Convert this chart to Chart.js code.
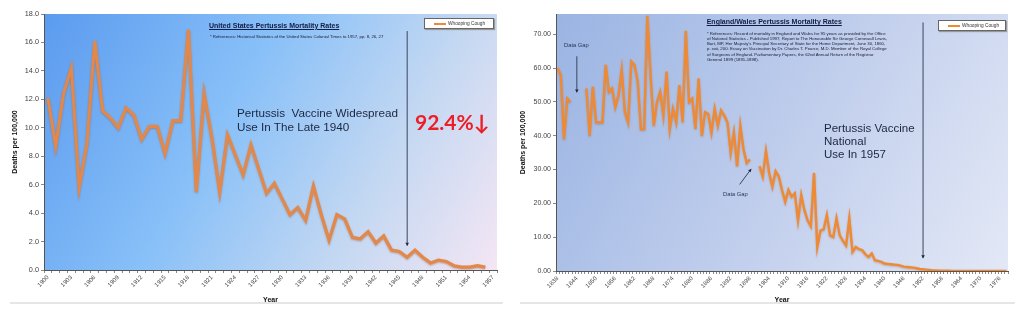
<!DOCTYPE html>
<html>
<head>
<meta charset="utf-8">
<script src="https://cdn.jsdelivr.net/npm/chart.js@4.4.1/dist/chart.umd.min.js"></script>
<style>
  html, body { margin: 0; padding: 0; background: #fff; }
  body { width: 1024px; height: 322px; position: relative; overflow: hidden; font-family: "Liberation Sans", Arial, sans-serif; }
  canvas { position: absolute; top: 0; }
  #usChart { left: 0; }
  #ewChart { left: 510px; }
  .note { position: absolute; white-space: pre; color: #1d2a46; }
  .title { font-weight: bold; font-size: 7px; line-height: 8px; text-decoration: underline; color: #101c44; }
  .refs { font-size: 4.3px; line-height: 5.2px; color: #1a1a2e; }
  .big { font-size: 11.7px; line-height: 14.5px; color: #1c2740; }
  .gap { font-size: 5.8px; line-height: 7px; color: #2a3656; }
  .legend { position: absolute; height: 9px; background: #fff; border: 1px solid #666; box-shadow: 1px 1px 1px #999; font-size: 4.8px; line-height: 9px; color: #333; white-space: nowrap; }
  .legend i { display: inline-block; width: 12px; height: 2px; background: #ee8a35; vertical-align: middle; margin: 0 2px 0 9px; }
  .sep { position: absolute; top: 302px; height: 2px; background: #e6e6e6; }
</style>
</head>
<body>
<canvas id="usChart" width="510" height="322"></canvas>
<canvas id="ewChart" width="514" height="322"></canvas>

<div class="sep" style="left:10px;width:493px"></div>
<div class="sep" style="left:520px;width:495px"></div>

<!-- left chart notes -->
<div class="note title" style="left:209px;top:21.7px">United States Pertussis Mortality Rates</div>
<div class="note refs" style="left:210px;top:34.3px">* References: Historical Statistics of the United States Colonial Times to 1957, pp. 8, 26, 27</div>
<div class="legend" style="left:424px;top:18px;width:68px"><i></i>Whooping Cough</div>
<div class="note big" style="left:237px;top:105.7px">Pertussis  Vaccine Widespread
Use In The Late 1940</div>
<div class="note" style="left:415px;top:109.5px;font:bold 21px/23px Lato, 'Open Sans', sans-serif;color:#ee1c25">92.4%↓</div>

<!-- right chart notes -->
<div class="note title" style="left:706.7px;top:18.3px">England/Wales Pertussis Mortality Rates</div>
<div class="note refs" style="left:707px;top:30.7px">* References: Record of mortality in England and Wales for 95 years as provided by the Office
of National Statistics - Published 1997, Report to The Honourable Sir George Cornewall Lewis,
Bart, MP, Her Majesty's Principal Secretary of State for the Home Department, June 30, 1860,
p. xxii, 200. Essay on Vaccination by Dr. Charles T. Pearce, M.D. Member of the Royal College
of Surgeons of England. Parliamentary Papers, the 62nd Annual Return of the Registrar
General 1899 (1891-1898).</div>
<div class="legend" style="left:938px;top:20px;width:66px"><i></i>Whooping Cough</div>
<div class="note big" style="left:824px;top:121.5px;font-size:11.5px;line-height:13.4px">Pertussis Vaccine
National
Use In 1957</div>
<div class="note gap" style="left:564px;top:41.5px">Data Gap</div>
<div class="note gap" style="left:723px;top:190.8px">Data Gap</div>

<script>
const FONT = "'Liberation Sans', Arial, sans-serif";

// United States, deaths per 100,000, 1900-1956
const usYears = [];
for (let y = 1900; y <= 1957; y++) usYears.push(String(y));
const usRates = [
  12.1, 8.7, 12.4, 14.2, 5.8, 8.9, 16.1, 11.2, 10.7, 10.0,
  11.4, 10.9, 9.2, 10.1, 10.1, 8.2, 10.5, 10.5, 16.9, 5.5,
  12.4, 9.3, 5.5, 9.5, 8.1, 6.7, 8.8, 7.1, 5.4, 6.1,
  5.0, 3.9, 4.4, 3.5, 5.9, 3.9, 2.1, 3.9, 3.6, 2.3,
  2.2, 2.7, 1.9, 2.4, 1.4, 1.3, 0.9, 1.4, 0.9, 0.5,
  0.7, 0.6, 0.3, 0.2, 0.2, 0.3, 0.2, null
];

// England/Wales, deaths per 100,000, 1838-1978 (null = data gap)
const ewYears = [];
for (let y = 1838; y <= 1978; y++) ewYears.push(String(y));
const ewRates = [
  60, 58,
  39, 51, 50, null, null, null, null, 54, 40, 54.5,
  44, 44, 44, 61, 53, 54, 48.5, 52, 59.5, 47,
  44, 62, 61, 56, 42, 42, 75.5, 58, 43, 50,
  53, 46, 59, 42, 48, 44, 55, 44, 71, 50,
  51, 42, 57, 40, 47, 46.5, 41, 48, 43, 47.5,
  46, 44, 35, 41, 31, 43, 36, 32, 33, null,
  null, 31, 28, 35.5, 29, 25, 29.5, 28, 24, 20.5,
  24, 22, 23, 15, 22.5, 18, 15, 13.3, 29, 7.1,
  12, 12.3, 16.6, 10.6, 10.1, 15.6, 10.6, 9, 7.6, 15.6,
  5.7, 7.1, 6.5, 6.2, 5, 4.2, 5.2, 3.2, 3.0, 2.7,
  2.2, 2.1, 2.0, 1.9, 1.8, 1.6, 1.3, 1.2, 1.1, 1.0,
  0.8, 0.6, 0.5, 0.4, 0.3, 0.2, 0.15, 0.1, 0.08, 0.07,
  0.06, 0.05, 0.05, 0.04, 0.04, 0.04, 0.03, 0.03, 0.03, 0.03,
  0.02, 0.02, 0.02, 0.02, 0.02, 0.02, 0.02, 0.02, 0.02
];

// gradient plot area, line shadow and annotation arrows
const plotDecor = {
  id: 'plotDecor',
  beforeDraw(chart, args, opts) {
    const a = chart.chartArea, ctx = chart.ctx;
    const g = ctx.createLinearGradient(a.left, a.top, a.right, a.bottom);
    opts.stops.forEach(s => g.addColorStop(s[0], s[1]));
    ctx.save();
    ctx.fillStyle = g;
    ctx.fillRect(a.left, a.top, a.width, a.height);
    ctx.restore();
  },
  beforeDatasetsDraw(chart, args, opts) {
    const ctx = chart.ctx;
    ctx.save();
    ctx.shadowColor = opts.shadow;
    ctx.shadowBlur = 2;
    ctx.shadowOffsetY = 1;
  },
  afterDatasetsDraw(chart, args, opts) {
    const ctx = chart.ctx;
    ctx.restore();
    const xs = chart.scales.x, ys = chart.scales.y;
    (opts.arrows || []).forEach(ar => {
      const x1 = xs.getPixelForValue(ar.from[0]), y1 = ys.getPixelForValue(ar.from[1]);
      const x2 = xs.getPixelForValue(ar.to[0]), y2 = ys.getPixelForValue(ar.to[1]);
      const ang = Math.atan2(y2 - y1, x2 - x1);
      ctx.save();
      ctx.strokeStyle = '#3a4660';
      ctx.lineWidth = 1;
      ctx.beginPath();
      ctx.moveTo(x1, y1);
      ctx.lineTo(x2, y2);
      ctx.stroke();
      ctx.fillStyle = '#1e2a44';
      ctx.beginPath();
      ctx.moveTo(x2, y2);
      ctx.lineTo(x2 - 3.5 * Math.cos(ang - 0.55), y2 - 3.5 * Math.sin(ang - 0.55));
      ctx.lineTo(x2 - 3.5 * Math.cos(ang + 0.55), y2 - 3.5 * Math.sin(ang + 0.55));
      ctx.closePath();
      ctx.fill();
      ctx.restore();
    });
  }
};

function makeChart(id, cfg) {
  return new Chart(document.getElementById(id), {
    type: 'line',
    data: {
      labels: cfg.labels,
      datasets: [{
        label: 'Whooping Cough',
        data: cfg.data,
        borderColor: cfg.color,
        borderWidth: cfg.width,
        pointRadius: 0,
        tension: 0,
        spanGaps: false
      }]
    },
    options: {
      responsive: false,
      animation: false,
      layout: { padding: cfg.padding },
      plugins: {
        legend: { display: false },
        tooltip: { enabled: false },
        plotDecor: { stops: cfg.stops, shadow: cfg.shadow, arrows: cfg.arrows }
      },
      scales: {
        x: {
          type: 'category',
          offset: true,
          grid: { offset: true, drawOnChartArea: false, tickLength: 3, color: '#8a8a8a' },
          border: { color: '#555', width: 1 },
          ticks: {
            autoSkip: false, maxRotation: 45, minRotation: 45, padding: 1,
            color: '#444', font: { size: 6, family: FONT },
            callback: (v, i) => i % cfg.every === 0 ? cfg.labels[i] : ''
          },
          title: { display: true, text: 'Year', color: '#111', font: { size: 7, weight: 'bold', family: FONT }, padding: { top: 0, bottom: 1 } },
          afterFit(scale) { scale.height = cfg.xHeight; scale.paddingLeft = 0; scale.paddingRight = 0; }
        },
        y: {
          min: 0,
          max: cfg.yMax,
          afterBuildTicks(scale) { scale.ticks = scale.ticks.filter(t => Math.abs(t.value / cfg.step - Math.round(t.value / cfg.step)) < 1e-6); },
          ticks: { stepSize: cfg.step, padding: 2, color: '#444', font: { size: cfg.yFont, family: FONT }, callback: v => v.toFixed(cfg.digits) },
          grid: { drawOnChartArea: false, tickLength: 3, color: '#8a8a8a' },
          border: { color: '#555', width: 1 },
          title: { display: true, text: 'Deaths per 100,000', color: '#111', font: { size: 7, weight: 'bold', family: FONT }, padding: { top: cfg.titleGap, bottom: 0 } },
          afterFit(scale) { scale.width = cfg.yWidth; scale.paddingTop = 0; scale.paddingBottom = 0; }
        }
      }
    },
    plugins: [plotDecor]
  });
}

makeChart('usChart', {
  labels: usYears, data: usRates, every: 3,
  color: '#e2884a', width: 3.2, shadow: 'rgba(150,80,40,0.45)',
  padding: { left: 0, top: 14, right: 13, bottom: 17 },
  xHeight: 35, yWidth: 44, titleGap: 10.8,
  yMax: 18, step: 2, digits: 1, yFont: 7.3,
  stops: [[0, '#5b9bef'], [0.4, '#88c0f8'], [0.72, '#c4d8f2'], [1, '#f4e6f4']],
  arrows: [{ from: [46, 16.8], to: [46, 1.7] }]
});

makeChart('ewChart', {
  labels: ewYears, data: ewRates, every: 6,
  color: '#ee8a35', width: 2.4, shadow: 'rgba(150,80,30,0.35)',
  padding: { left: 0, top: 14, right: 16, bottom: 17 },
  xHeight: 34, yWidth: 46, titleGap: 8.8,
  yMax: 76, step: 10, digits: 2, yFont: 7,
  stops: [[0, '#9ab4e3'], [0.5, '#bfcdec'], [1, '#e3e8f6']],
  arrows: [
    { from: [114, 73.5], to: [114, 3.8] },
    { from: [6, 63.5], to: [6, 52.8] },
    { from: [56.8, 25.6], to: [60.4, 30.2] }
  ]
});
</script>
</body>
</html>
